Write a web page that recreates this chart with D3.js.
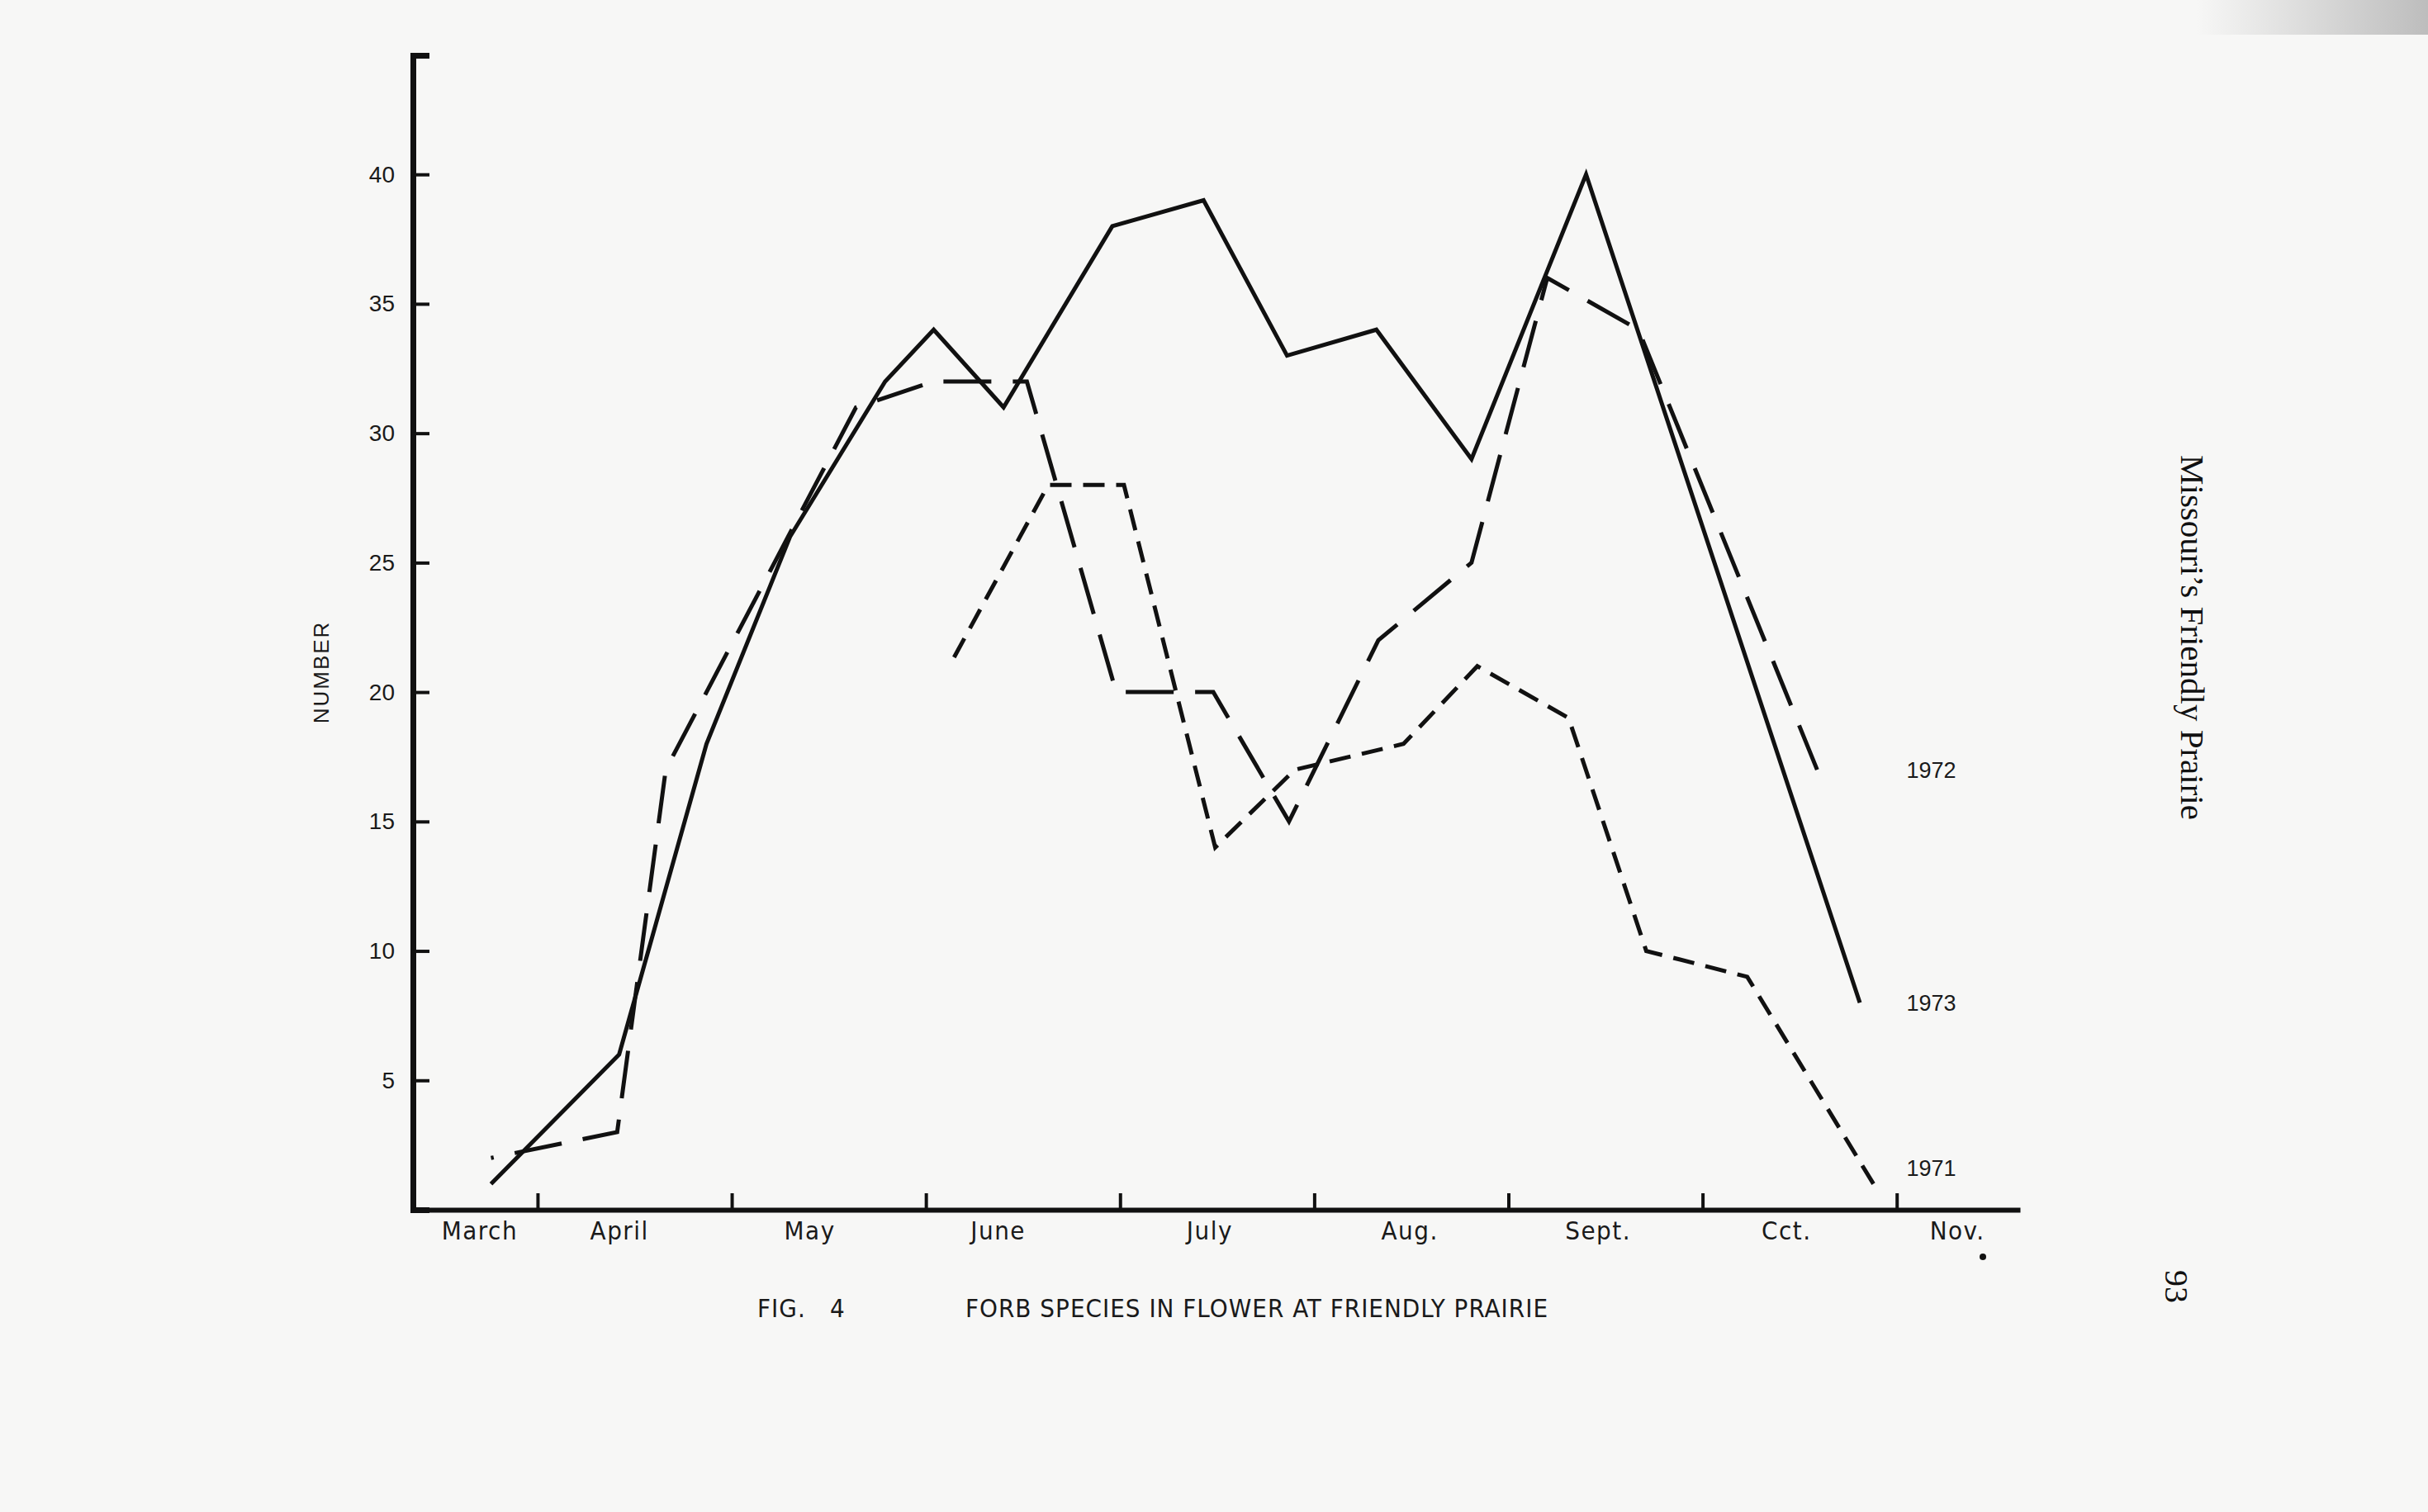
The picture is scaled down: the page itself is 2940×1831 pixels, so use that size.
<!DOCTYPE html>
<html>
<head>
<meta charset="utf-8">
<script src="https://cdn.jsdelivr.net/npm/d3@7"></script>
<style>
  body { margin: 0; background: #f7f7f6; }
  svg { display: block; }
  .axis text { font-family: "Liberation Sans", Arial, sans-serif; fill: #1a1a1a; }
  .month text { font-family: "Liberation Sans Narrow", "DejaVu Sans Condensed", sans-serif; }
</style>
</head>
<body>
<div id="chart"></div>
<script>
// month position: 1 = start of April, 2 = start of May ... 8 = start of Nov.
const months1973 = [0.76, 1.42, 1.87, 2.30, 2.79, 3.04, 3.40, 3.96, 4.43, 4.86, 5.32, 5.81, 6.40, 7.81];
const values1973 = [1, 6, 18, 26, 32, 34, 31, 38, 39, 33, 34, 29, 40, 8];

const months1972 = [0.76, 1.41, 1.66, 2.64, 3.04, 3.52, 3.98, 4.48, 4.87, 5.33, 5.81, 6.20, 6.67, 7.59];
const values1972 = [2, 3, 17, 31, 32, 32, 20, 20, 15, 22, 25, 36, 34, 17];

const months1971 = [3.12, 3.63, 4.02, 4.49, 4.90, 5.46, 5.84, 6.31, 6.71, 7.23, 7.88];
const values1971 = [21, 28, 28, 14, 17, 18, 21, 19, 10, 9, 1];

const monthNames = ["March", "April", "May", "June", "July", "Aug.", "Sept.", "Cct.", "Nov."];
const monthLabelAt = [0.70, 1.42, 2.40, 3.37, 4.46, 5.49, 6.46, 7.43, 8.31];
const monthTicks = [1, 2, 3, 4, 5, 6, 7, 8];
const yTicks = [5, 10, 15, 20, 25, 30, 35, 40];

const years = ["1973", "1972", "1971"];
const yearLabelValue = [8, 17, 1.6];

const margin = { top: 67, right: 494, bottom: 366, left: 500 };
const width = 2940 - margin.left - margin.right;
const height = 1831 - margin.top - margin.bottom;

const svgRoot = d3.select("#chart")
  .append("svg")
  .attr("width", 2940)
  .attr("height", 1831);

// grey shadow of the scanner lid, top right
const shade = svgRoot.append("defs").append("linearGradient")
  .attr("id", "shade")
  .attr("x1", 0).attr("x2", 1).attr("y1", 0).attr("y2", 0);
shade.append("stop").attr("offset", 0).attr("stop-color", "#f7f7f6");
shade.append("stop").attr("offset", 1).attr("stop-color", "#bdbdbd");
svgRoot.append("rect")
  .attr("x", 2660).attr("y", 0)
  .attr("width", 280).attr("height", 42)
  .attr("fill", "url(#shade)");

const svg = svgRoot.append("g")
  .attr("transform", `translate(${margin.left},${margin.top})`);

const x = d3.scaleLinear()
  .domain([0.358, 8.635])
  .range([0, width]);

const y = d3.scaleLinear()
  .domain([0, 44.6])
  .range([height, 0]);

// y axis, ticks pointing inwards
const yAxis = svg.append("g")
  .attr("class", "axis")
  .call(d3.axisLeft(y).tickValues(yTicks).tickSize(-20).tickSizeOuter(-20).tickPadding(22));
yAxis.select(".domain").attr("stroke", "#111").attr("stroke-width", 7);
yAxis.selectAll(".tick line").attr("stroke", "#111").attr("stroke-width", 4);
yAxis.selectAll("text").style("font-size", "28px");

// x axis, month boundaries
const xAxis = svg.append("g")
  .attr("class", "axis")
  .attr("transform", `translate(0,${height})`)
  .call(d3.axisBottom(x).tickValues(monthTicks).tickSize(-20).tickSizeOuter(0).tickFormat(""));
xAxis.select(".domain").attr("stroke", "#111").attr("stroke-width", 6);
xAxis.selectAll(".tick line").attr("stroke", "#111").attr("stroke-width", 4);

const monthAxis = svg.append("g")
  .attr("class", "axis month")
  .attr("transform", `translate(0,${height})`)
  .call(d3.axisBottom(x).tickValues(monthLabelAt).tickSize(0).tickPadding(14)
    .tickFormat((d, i) => monthNames[i]));
monthAxis.select(".domain").remove();
monthAxis.selectAll("text").style("font-size", "31px").style("letter-spacing", "1.5px");

// the three years
const series = [
  { year: "1973", months: months1973, values: values1973, dash: null },
  { year: "1972", months: months1972, values: values1972, dash: [58, 26] },
  { year: "1971", months: months1971, values: values1971, dash: [26, 14] }
];

const line = d3.line()
  .x(d => x(d[0]))
  .y(d => y(d[1]));

svg.selectAll(".year-line")
  .data(series)
  .enter()
  .append("path")
  .attr("class", "year-line")
  .attr("d", s => line(d3.zip(s.months, s.values)))
  .attr("fill", "none")
  .attr("stroke", "#111")
  .attr("stroke-width", 5)
  .attr("stroke-linejoin", "miter")
  .attr("stroke-dasharray", s => s.dash ? s.dash.join(",") : null)
  .each(function(s) {
    if (!s.dash) return;
    // let the dashed lines finish on a whole dash
    const len = this.getTotalLength();
    const period = s.dash[0] + s.dash[1];
    d3.select(this).attr("stroke-dashoffset", s.dash[0] - (len % period));
  });

svg.selectAll(".year-label")
  .data(years)
  .enter()
  .append("text")
  .attr("class", "year-label")
  .attr("x", x(8.05))
  .attr("y", (d, i) => y(yearLabelValue[i]))
  .attr("dy", "0.35em")
  .style("font-family", "Liberation Sans, Arial, sans-serif")
  .style("font-size", "27px")
  .style("fill", "#1a1a1a")
  .text(d => d);

// axis label
svg.append("text")
  .attr("text-anchor", "middle")
  .attr("transform", "rotate(-90)")
  .attr("x", -(814 - margin.top))
  .attr("y", 388 - margin.left + 10)
  .style("font-family", "Liberation Sans, Arial, sans-serif")
  .style("font-size", "26px")
  .style("letter-spacing", "2px")
  .style("fill", "#1a1a1a")
  .text("NUMBER");

// caption
const caption = svgRoot.append("g")
  .style("font-family", "Liberation Sans Narrow, DejaVu Sans Condensed, sans-serif")
  .style("font-size", "31px")
  .style("letter-spacing", "1px")
  .style("fill", "#1a1a1a");
caption.append("text").attr("x", 917).attr("y", 1595).text("FIG.");
caption.append("text").attr("x", 1005).attr("y", 1595).text("4");
caption.append("text").attr("x", 1169).attr("y", 1595).text("FORB SPECIES IN FLOWER AT FRIENDLY PRAIRIE");

// page furniture
svgRoot.append("text")
  .attr("transform", "translate(2641,772) rotate(90)")
  .attr("text-anchor", "middle")
  .style("font-family", "Liberation Serif, Times New Roman, serif")
  .style("font-size", "41px")
  .style("fill", "#111")
  .text("Missouri\u2019s Friendly Prairie");

svgRoot.append("text")
  .attr("transform", "translate(2622,1558) rotate(90)")
  .attr("text-anchor", "middle")
  .style("font-family", "Liberation Serif, Times New Roman, serif")
  .style("font-size", "40px")
  .style("fill", "#111")
  .text("93");

svgRoot.append("circle")
  .attr("cx", 2401)
  .attr("cy", 1522)
  .attr("r", 4)
  .attr("fill", "#111");
</script>
</body>
</html>
